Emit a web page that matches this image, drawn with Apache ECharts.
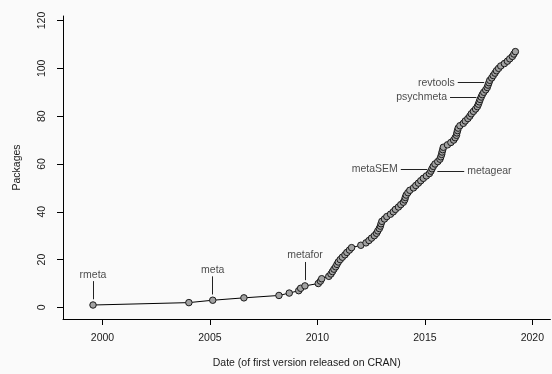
<!DOCTYPE html>
<html>
<head>
<meta charset="utf-8">
<style>
  html, body { margin: 0; padding: 0; background: #fafafa; }
  #chart { width: 552px; height: 374px; }
</style>
<script src="https://cdn.jsdelivr.net/npm/echarts@6/dist/echarts.min.js"></script>
</head>
<body>
<div id="chart"></div>
<script>
// Date (decimal year) of the first CRAN release of each meta-analysis package, in release order
const releaseYears = [
  1999.56, 2004.02, 2005.13, 2006.58, 2008.21, 2008.69, 2009.13, 2009.22, 2009.42, 2010.04,
  2010.14, 2010.20, 2010.53, 2010.63, 2010.70, 2010.77, 2010.85, 2010.91, 2010.97, 2011.06,
  2011.16, 2011.28, 2011.37, 2011.49, 2011.59, 2012.02, 2012.26, 2012.40, 2012.52, 2012.65,
  2012.75, 2012.81, 2012.88, 2012.93, 2012.96, 2013.00, 2013.12, 2013.23, 2013.40, 2013.53,
  2013.63, 2013.77, 2013.88, 2014.00, 2014.06, 2014.09, 2014.13, 2014.21, 2014.30, 2014.47,
  2014.58, 2014.70, 2014.81, 2014.93, 2015.07, 2015.21, 2015.28, 2015.33, 2015.39, 2015.47,
  2015.60, 2015.70, 2015.74, 2015.78, 2015.80, 2015.83, 2015.86, 2016.05, 2016.21, 2016.34,
  2016.41, 2016.47, 2016.49, 2016.52, 2016.55, 2016.63, 2016.79, 2016.88, 2017.00, 2017.09,
  2017.16, 2017.26, 2017.36, 2017.44, 2017.49, 2017.53, 2017.57, 2017.62, 2017.67, 2017.74,
  2017.83, 2017.90, 2017.94, 2017.98, 2018.02, 2018.11, 2018.18, 2018.26, 2018.33, 2018.43,
  2018.53, 2018.70, 2018.84, 2018.95, 2019.07, 2019.14, 2019.21
];

// Running total of packages on CRAN after each release
const packageCounts = releaseYears.map((_, i) => i + 1);

// Highlighted packages: position in the release order and which side the label sits on
const labelNames   = ['rmeta', 'meta', 'metafor', 'metaSEM', 'metagear', 'psychmeta', 'revtools'];
const labelIndices = [0, 2, 8, 57, 56, 87, 93];
const labelSides   = ['top', 'top', 'top', 'left', 'right', 'left', 'left'];

// Axis tick labels
const xTicks = [2000, 2005, 2010, 2015, 2020];
const yTicks = [0, 20, 40, 60, 80, 100, 120];

const FONT = "'Liberation Sans', Arial, Helvetica, sans-serif";
const TEXT = '#1a1a1a';

const points = releaseYears.map((x, i) => [x, packageCounts[i]]);

// leader segments and label anchors, offset from each highlighted point in data units
const leaders = [];
const labelAnchors = [];
labelNames.forEach((name, k) => {
  const x = releaseYears[labelIndices[k]];
  const y = packageCounts[labelIndices[k]];
  const side = labelSides[k];
  if (side === 'top') {
    leaders.push({ coords: [[x, y + 2.4], [x, y + 10]] });
    labelAnchors.push({ value: [x, y + 10], label: { position: 'top', distance: 1, formatter: name } });
  } else if (side === 'left') {
    leaders.push({ coords: [[x - 0.22, y], [x - 1.45, y]] });
    labelAnchors.push({ value: [x - 1.45, y], label: { position: 'left', distance: 3, formatter: name } });
  } else {
    leaders.push({ coords: [[x + 0.3, y], [x + 1.55, y]] });
    labelAnchors.push({ value: [x + 1.55, y], label: { position: 'right', distance: 3, formatter: name } });
  }
});

const chart = echarts.init(document.getElementById('chart'), null, { renderer: 'canvas' });

chart.setOption({
  animation: false,
  backgroundColor: '#fafafa',
  textStyle: { fontFamily: FONT },
  grid: { left: 63, right: 1.6, top: 16, bottom: 52.3, containLabel: false },
  xAxis: {
    type: 'value',
    min: 1998.163,
    max: 2020.84,
    name: 'Date (of first version released on CRAN)',
    nameLocation: 'middle',
    nameGap: 39,
    nameTextStyle: { fontFamily: FONT, fontSize: 10.5, color: TEXT },
    axisLine: { show: true, onZero: false, lineStyle: { color: '#000', width: 1 } },
    axisTick: { show: true, customValues: xTicks, length: 6, lineStyle: { color: '#000', width: 1 } },
    axisLabel: {
      customValues: xTicks, margin: 14, fontFamily: FONT, fontSize: 10.5, color: TEXT,
      formatter: v => String(v)
    },
    splitLine: { show: false }
  },
  yAxis: {
    type: 'value',
    min: -4.85,
    max: 121.9,
    name: 'Packages',
    nameLocation: 'middle',
    nameGap: 40,
    nameRotate: 90,
    nameTextStyle: { fontFamily: FONT, fontSize: 10.5, color: TEXT },
    axisLine: { show: true, onZero: false, lineStyle: { color: '#000', width: 1 } },
    axisTick: { show: true, customValues: yTicks, length: 6, lineStyle: { color: '#000', width: 1 } },
    axisLabel: {
      customValues: yTicks, rotate: 90, margin: 15, fontFamily: FONT, fontSize: 10.5, color: TEXT,
      formatter: v => String(v)
    },
    splitLine: { show: false }
  },
  series: [
    {
      type: 'lines',
      coordinateSystem: 'cartesian2d',
      polyline: false,
      silent: true,
      z: 2,
      lineStyle: { color: '#222', width: 1, opacity: 1 },
      data: leaders
    },
    {
      type: 'line',
      data: points,
      z: 3,
      symbol: 'circle',
      symbolSize: 6.5,
      showSymbol: true,
      lineStyle: { color: '#000', width: 1 },
      itemStyle: { color: '#a2a2a2', borderColor: '#1a1a1a', borderWidth: 1 }
    },
    {
      type: 'scatter',
      data: labelAnchors,
      symbolSize: 0,
      silent: true,
      z: 4,
      label: { show: true, fontFamily: FONT, fontSize: 10.5, color: TEXT }
    }
  ]
});
</script>
</body>
</html>
